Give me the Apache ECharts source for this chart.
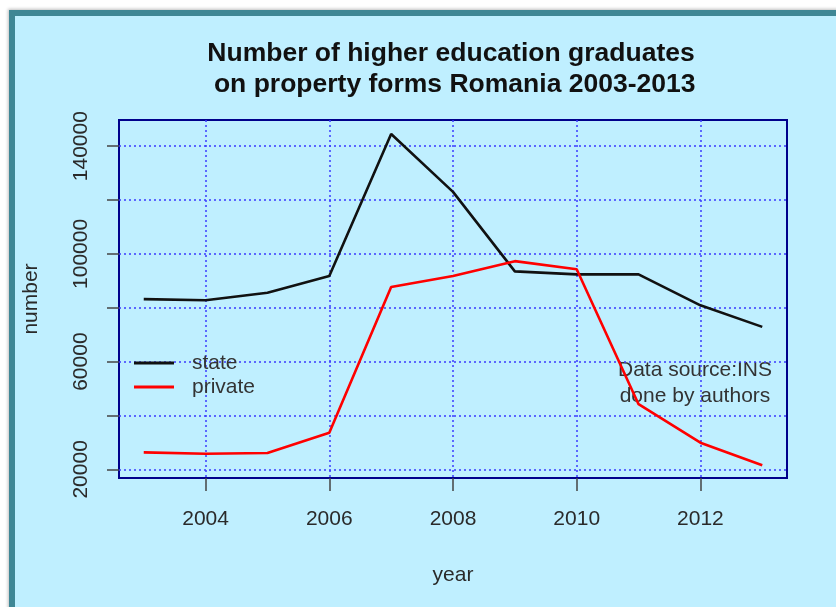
<!DOCTYPE html>
<html>
<head>
<meta charset="utf-8">
<script src="https://cdn.jsdelivr.net/npm/echarts@6/dist/echarts.min.js"></script>
<style>
  html, body { margin: 0; padding: 0; background: #ffffff; width: 836px; height: 607px; overflow: hidden; }
  #frame { position: absolute; left: 9px; top: 10px; width: 900px; height: 700px; background: #BFEFFF;
           border-left: 6px solid #3f8795; border-top: 6px solid #3f8795; box-shadow: -1px -1px 3px rgba(0,0,0,0.25); }
  #chart { position: absolute; left: 0; top: 0; width: 836px; height: 607px; }
</style>
</head>
<body>
<div id="frame"></div>
<div id="chart"></div>
<script>
// ---- data ----
const years = [2003, 2004, 2005, 2006, 2007, 2008, 2009, 2010, 2011, 2012, 2013];
const stateValues = [83200, 82800, 85600, 91800, 144500, 123000, 93500, 92400, 92400, 80900, 72900];
const privateValues = [26300, 25800, 26100, 33600, 87700, 91800, 97300, 94300, 44200, 29900, 21500];
const xTicks = [2004, 2006, 2008, 2010, 2012];
const yTicks = [20000, 40000, 60000, 80000, 100000, 120000, 140000];
const yLabels = [20000, 60000, 100000, 140000];
const seriesNames = ['state', 'private'];
const titleText = 'Number of higher education graduates\n on property forms Romania 2003-2013';
const noteText = 'Data source:INS\ndone by authors';

const FONT = 'Liberation Sans, Arial, sans-serif';
const textColor = '#2a2a2a';
const gridLineStyle = { color: '#3b3bff', type: [2, 3], width: 1.5 };

const chart = echarts.init(document.getElementById('chart'), null, { renderer: 'canvas' });
chart.setOption({
  backgroundColor: 'transparent',
  animation: false,
  title: {
    text: titleText,
    left: 451,
    top: 38,
    padding: 0,
    textAlign: 'center',
    textStyle: { fontFamily: FONT, fontSize: 26.5, fontWeight: 'bold', color: '#111', lineHeight: 31 }
  },
  grid: {
    left: 119, right: 49, top: 120, bottom: 129,
    show: true, borderColor: '#00008B', borderWidth: 2, backgroundColor: 'transparent'
  },
  legend: {
    data: seriesNames,
    orient: 'vertical',
    left: 129,
    top: 347,
    icon: 'rect',
    itemWidth: 40,
    itemHeight: 3,
    itemGap: 2,
    textStyle: { fontFamily: FONT, fontSize: 21, color: '#333', padding: [0, 0, 0, 13], lineHeight: 22 }
  },
  xAxis: {
    type: 'value',
    min: 2002.6,
    max: 2013.4,
    name: 'year',
    nameLocation: 'middle',
    nameGap: 87,
    nameTextStyle: { fontFamily: FONT, fontSize: 21, color: textColor },
    axisLine: { show: false },
    axisTick: { show: true, length: 13, customValues: xTicks, lineStyle: { color: '#444', width: 1.5 } },
    axisLabel: { customValues: xTicks, fontFamily: FONT, fontSize: 21, color: textColor, margin: 31,
                 formatter: v => String(v) },
    splitLine: { show: true, lineStyle: gridLineStyle }
  },
  yAxis: {
    type: 'value',
    min: 16800,
    max: 149700,
    name: 'number',
    nameLocation: 'middle',
    nameGap: 77,
    nameTextStyle: { fontFamily: FONT, fontSize: 21, color: textColor },
    axisLine: { show: false },
    axisTick: { show: true, length: 12, customValues: yTicks, lineStyle: { color: '#444', width: 1.5 } },
    axisLabel: { customValues: yLabels, rotate: 90, fontFamily: FONT, fontSize: 21, color: textColor, margin: 27,
                 formatter: v => String(v) },
    splitLine: { show: true, lineStyle: gridLineStyle }
  },
  graphic: [{
    type: 'text',
    x: 695,
    y: 357,
    style: { text: noteText, fill: '#333', font: '21px ' + FONT, textAlign: 'center', textVerticalAlign: 'top', lineHeight: 26 }
  }],
  series: [
    {
      name: seriesNames[0], type: 'line', showSymbol: false, symbol: 'none',
      itemStyle: { color: '#111111' },
      lineStyle: { color: '#111111', width: 2.6 },
      data: years.map((y, i) => [y, stateValues[i]])
    },
    {
      name: seriesNames[1], type: 'line', showSymbol: false, symbol: 'none',
      itemStyle: { color: '#ff0000' },
      lineStyle: { color: '#ff0000', width: 2.6 },
      data: years.map((y, i) => [y, privateValues[i]])
    }
  ]
});
</script>
</body>
</html>
